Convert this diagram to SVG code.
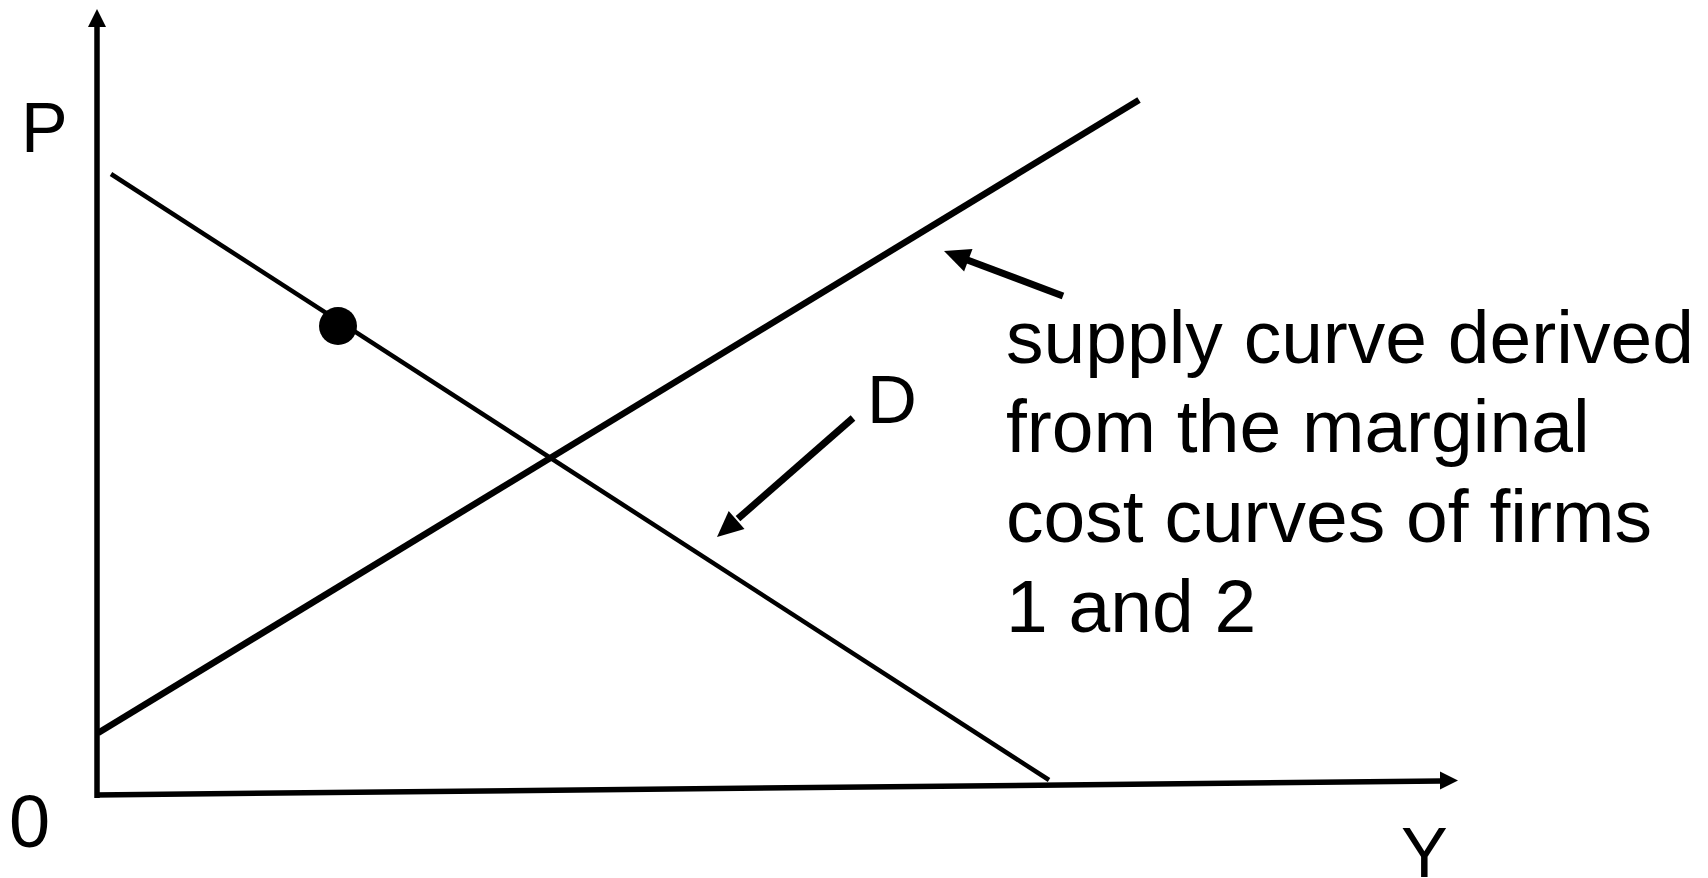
<svg xmlns="http://www.w3.org/2000/svg" width="1708" height="878" viewBox="0 0 1708 878">
<style>
.lbl{font-family:"Liberation Sans",Arial,sans-serif;fill:#000}
.ln{stroke:#000;fill:none;stroke-linecap:butt}
.head{fill:#000;stroke:none}
</style>
<rect width="1708" height="878" fill="#fff"/>
<g id="axes">
<line class="ln" x1="97" y1="798" x2="97" y2="26" stroke-width="5.5"/>
<polygon class="head" points="97,9 106,27 88,27"/>
<line class="ln" x1="95" y1="795" x2="1441" y2="781" stroke-width="5.5"/>
<polygon class="head" points="1458,780.5 1440,771.5 1440,789.5"/>
</g>
<g id="connectors">
<line id="supply" class="ln" x1="98" y1="733" x2="1139" y2="100" stroke-width="6.5"/>
<line id="demand" class="ln" x1="111" y1="174" x2="1049" y2="780" stroke-width="4.5"/>
<line class="ln" x1="1063" y1="296" x2="966" y2="259.4" stroke-width="7"/>
<polygon class="head" points="944,251 972.5,249 964.1,271.4"/>
<line class="ln" x1="853" y1="418" x2="738" y2="518.7" stroke-width="7"/>
<polygon class="head" points="717,537 728.7,510.9 744.5,528.9"/>
</g>
<g id="point"><circle cx="338" cy="326" r="19" fill="#000"/></g>
<g id="label-P"><text class="lbl" x="21" y="152" font-size="70">P</text></g>
<g id="label-0"><text class="lbl" x="9" y="847" font-size="74">0</text></g>
<g id="label-Y"><text class="lbl" x="1401" y="877" font-size="70">Y</text></g>
<g id="label-D"><text class="lbl" x="867" y="423" font-size="69">D</text></g>
<g id="label-supply">
<text class="lbl" font-size="75">
<tspan x="1006" y="363">supply curve derived</tspan>
<tspan x="1006" y="452">from the marginal</tspan>
<tspan x="1006" y="542">cost curves of firms</tspan>
<tspan x="1006" y="632">1 and 2</tspan>
</text>
</g>
</svg>
